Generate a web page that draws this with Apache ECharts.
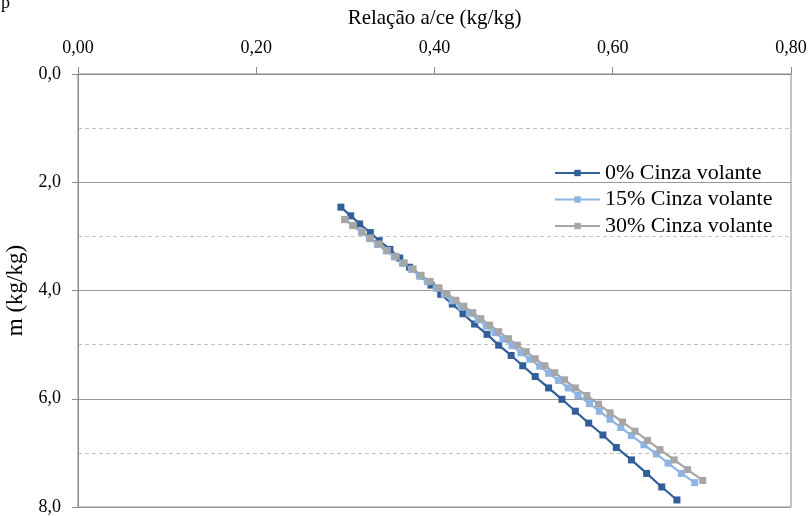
<!DOCTYPE html>
<html>
<head>
<meta charset="utf-8">
<script src="https://cdn.jsdelivr.net/npm/echarts@6/dist/echarts.min.js"></script>
<style>
  html, body { margin: 0; padding: 0; background: #fff; }
  #chart { width: 810px; height: 516px; }
</style>
</head>
<body>
<div id="chart"></div>
<script>
// Relação a/ce (x) versus m (y) for three fly-ash contents
const seriesNames = ['0% Cinza volante', '15% Cinza volante', '30% Cinza volante'];

const ac0 = [0.295, 0.306, 0.316, 0.328, 0.338, 0.350, 0.361, 0.372, 0.384, 0.396, 0.407, 0.420, 0.432, 0.445, 0.459, 0.472, 0.486, 0.499, 0.513, 0.528, 0.543, 0.558, 0.573, 0.589, 0.604, 0.621, 0.638, 0.655, 0.672];
const m0  = [2.46, 2.62, 2.77, 2.93, 3.08, 3.24, 3.40, 3.57, 3.73, 3.90, 4.07, 4.25, 4.43, 4.62, 4.81, 5.01, 5.20, 5.39, 5.59, 5.80, 6.01, 6.23, 6.45, 6.67, 6.90, 7.13, 7.38, 7.63, 7.87];

const ac15 = [0.299, 0.308, 0.318, 0.327, 0.336, 0.346, 0.355, 0.364, 0.374, 0.383, 0.392, 0.402, 0.411, 0.420, 0.430, 0.439, 0.449, 0.458, 0.468, 0.477, 0.487, 0.497, 0.507, 0.518, 0.528, 0.539, 0.550, 0.561, 0.574, 0.585, 0.597, 0.609, 0.621, 0.635, 0.649, 0.662, 0.677, 0.692];
const m15  = [2.69, 2.80, 2.92, 3.04, 3.15, 3.27, 3.38, 3.50, 3.61, 3.73, 3.84, 3.96, 4.07, 4.19, 4.31, 4.42, 4.54, 4.66, 4.78, 4.90, 5.02, 5.15, 5.27, 5.40, 5.53, 5.66, 5.80, 5.94, 6.09, 6.23, 6.38, 6.53, 6.68, 6.85, 7.02, 7.19, 7.38, 7.55];

const ac30 = [0.300, 0.309, 0.319, 0.328, 0.338, 0.347, 0.357, 0.366, 0.376, 0.385, 0.395, 0.405, 0.414, 0.424, 0.433, 0.443, 0.452, 0.462, 0.472, 0.483, 0.493, 0.503, 0.513, 0.524, 0.535, 0.546, 0.558, 0.571, 0.584, 0.597, 0.611, 0.625, 0.639, 0.653, 0.669, 0.684, 0.701];
const m30  = [2.69, 2.80, 2.92, 3.03, 3.14, 3.26, 3.37, 3.49, 3.60, 3.72, 3.83, 3.95, 4.06, 4.18, 4.29, 4.41, 4.52, 4.64, 4.76, 4.89, 5.01, 5.13, 5.26, 5.39, 5.52, 5.65, 5.80, 5.94, 6.10, 6.26, 6.43, 6.60, 6.77, 6.94, 7.13, 7.31, 7.51];

const acTicks = [0, 0.2, 0.4, 0.6, 0.8];
const mTicks = [0, 2, 4, 6, 8];

const colors = ['#325f97', '#8db4e2', '#a6a6a6'];
const serif = 'Liberation Serif, Times New Roman, serif';

function pairs(xs, ys) {
  return xs.map((x, i) => [x, ys[i]]);
}

const chart = echarts.init(document.getElementById('chart'), null, { renderer: 'canvas' });

const mkSeries = (name, xs, ys, color) => ({
  name: name,
  type: 'line',
  data: pairs(xs, ys),
  symbol: 'rect',
  symbolSize: 7,
  color: color,
  lineStyle: { color: color, width: 2.2 },
  itemStyle: { color: color },
  animation: false
});

chart.setOption({
  animation: false,
  color: colors,
  grid: {
    left: 78, right: 19, top: 74, bottom: 9,
    outerBoundsMode: 'none',
    containLabel: false,
    show: true, borderColor: '#8a8a8a', borderWidth: 1, backgroundColor: 'transparent'
  },
  graphic: [{
    type: 'text', left: 1, top: -6,
    style: { text: 'p', font: '18px ' + serif, fill: '#000' }
  }],
  legend: {
    data: seriesNames,
    orient: 'vertical',
    left: 549, top: 157,
    itemWidth: 45, itemHeight: 8, itemGap: 4.5,
    textStyle: { fontFamily: serif, fontSize: 22, color: '#000', lineHeight: 22 }
  },
  xAxis: {
    type: 'value',
    position: 'top',
    min: acTicks[0], max: acTicks[acTicks.length - 1], interval: 0.2,
    name: 'Relação a/ce (kg/kg)',
    nameLocation: 'middle', nameGap: 45,
    nameTextStyle: { fontFamily: serif, fontSize: 21, color: '#000' },
    axisLine: { show: true, lineStyle: { color: '#8a8a8a', width: 1 } },
    axisTick: { show: true, length: 7, lineStyle: { color: '#8a8a8a' } },
    axisLabel: {
      margin: 17, fontFamily: serif, fontSize: 18, color: '#000',
      formatter: v => v.toFixed(2).replace('.', ',')
    },
    splitLine: { show: false }
  },
  yAxis: {
    type: 'value',
    inverse: true,
    min: mTicks[0], max: mTicks[mTicks.length - 1], interval: 2,
    name: 'm (kg/kg)',
    nameLocation: 'middle', nameGap: 51,
    nameTextStyle: { fontFamily: serif, fontSize: 23, color: '#000' },
    axisLine: { show: true, lineStyle: { color: '#8a8a8a', width: 1 } },
    axisTick: { show: true, length: 6, lineStyle: { color: '#8a8a8a' } },
    axisLabel: {
      margin: 17, fontFamily: serif, fontSize: 18, color: '#000',
      formatter: v => v.toFixed(1).replace('.', ',')
    },
    splitLine: { show: true, lineStyle: { color: '#999999', width: 1 } },
    minorTick: { show: false, splitNumber: 2 },
    minorSplitLine: { show: true, lineStyle: { color: '#c4c4c4', type: [4, 3], width: 1 } }
  },
  series: [
    mkSeries(seriesNames[0], ac0, m0, colors[0]),
    mkSeries(seriesNames[1], ac15, m15, colors[1]),
    mkSeries(seriesNames[2], ac30, m30, colors[2])
  ]
});
</script>
</body>
</html>
